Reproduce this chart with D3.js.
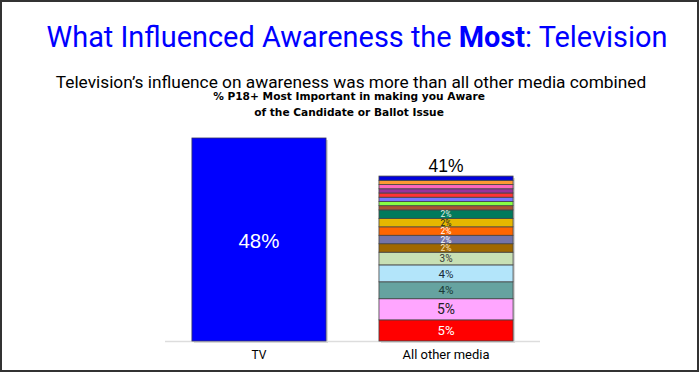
<!DOCTYPE html>
<html>
<head>
<meta charset="utf-8">
<script src="https://cdn.jsdelivr.net/npm/d3@7"></script>
<style>
  html, body { margin: 0; padding: 0; background: #fff; }
  svg { display: block; }
</style>
</head>
<body>
<svg id="chart" width="700" height="373"></svg>
<script>
// ---- data ----
const categories = ["TV", "All other media"];
const tvValue = 48;
const tvLabel = "48%";
const otherTotalLabel = "41%";
// stacked segments of "All other media", bottom to top
const otherValues = [5, 5, 4, 4, 3, 2, 2, 2, 2, 2, 1, 1, 1, 1, 1, 1, 1, 1];
const otherLabels = ["5%", "5%", "4%", "4%", "3%", "2%", "2%", "2%", "2%", "2%", "", "", "", "", "", "", "", ""];
const otherColors = ["#FF0000", "#FFA6FF", "#66A3A0", "#B3E5FA", "#C8E0B4", "#A06800", "#7474A8", "#FF6600", "#E6B800", "#007A5C",
                     "#AA5533", "#88FF44", "#7777FF", "#FF3333", "#993399", "#FF66BB", "#FF9933", "#0000DD"];
const otherLabelColors = ["#ffffff", "#222222", "#1a3a38", "#1a2a3a", "#333333", "#FFE8C0", "#ffffff", "#ffffff", "#222222", "#E0F0E8"];
const otherLabelWidths = [17, 18, 15, 15, 13, 11, 11, 11, 11, 11];

const titleText = ["What Influenced Awareness the ", "Most", ": Television"];
const subtitleText = "Television\u2019s influence on awareness was more than all other media combined";
const chartTitle = ["% P18+ Most Important in making you Aware", "of the Candidate or Ballot Issue"];

// ---- helpers ----
function fit(sel, target) {
  sel.each(function () {
    const el = d3.select(this);
    const fs = parseFloat(el.style("font-size"));
    const w = this.getComputedTextLength();
    if (w > 0) el.style("font-size", (fs * target / w) + "px");
  });
  return sel;
}

// ---- layout ----
const svg = d3.select("#chart");
const W = 700, H = 373;
const font = "'Liberation Sans', Arial, sans-serif";
const tfont = "Roboto, 'Liberation Sans', sans-serif";

svg.append("rect").attr("x", 1).attr("y", 1).attr("width", W - 3).attr("height", H - 3)
  .attr("fill", "#fff").attr("stroke", "#333").attr("stroke-width", 2);

const t = svg.append("text").attr("x", 357).attr("y", 47).attr("text-anchor", "middle")
  .attr("fill", "#0000FF").style("font-family", tfont).style("font-size", "32px");
t.append("tspan").text(titleText[0]);
t.append("tspan").style("font-weight", "bold").text(titleText[1]);
t.append("tspan").text(titleText[2]);
fit(t, 621);

fit(svg.append("text").attr("x", 351).attr("y", 88).attr("text-anchor", "middle")
  .attr("fill", "#000").style("font-family", tfont).style("font-size", "20px")
  .text(subtitleText), 591);

const ct = svg.selectAll("text.ct").data(chartTitle).join("text").attr("class", "ct")
  .attr("x", 349).attr("y", (d, i) => 100 + i * 16).attr("text-anchor", "middle")
  .attr("fill", "#000").style("font-family", "'DejaVu Sans', sans-serif")
  .style("font-size", "11px").style("font-weight", "bold").text(d => d);
fit(ct.filter((d, i) => i === 0), 272);
ct.filter((d, i) => i === 1).style("font-size", ct.filter((d, i) => i === 0).style("font-size"));

const x = d3.scaleBand().domain(categories).range([165, 540]).paddingInner(0.283).paddingOuter(0.144);
const y = d3.scaleLinear().domain([0, 48]).range([341, 138]);

// axis baseline
svg.append("line").attr("x1", 165).attr("x2", 540).attr("y1", 341.5).attr("y2", 341.5)
  .attr("stroke", "#dddddd").attr("stroke-width", 1.5);

// TV bar with shadow
svg.append("rect").attr("x", x("TV") + 2).attr("y", y(tvValue) + 2)
  .attr("width", x.bandwidth()).attr("height", y(0) - y(tvValue))
  .attr("fill", "#d8d8d8");
svg.append("rect").attr("x", x("TV")).attr("y", y(tvValue))
  .attr("width", x.bandwidth()).attr("height", y(0) - y(tvValue))
  .attr("fill", "#0000FF").attr("stroke", "#333366").attr("stroke-width", 0.8);
fit(svg.append("text").attr("x", x("TV") + x.bandwidth() / 2).attr("y", 248)
  .attr("text-anchor", "middle").attr("fill", "#fff")
  .style("font-family", font).style("font-size", "21px")
  .text(tvLabel), 41);

// stacked bar
let cum = 0;
const segs = otherValues.map((v, i) => {
  const s = { v, i, y0: cum, y1: cum + v };
  cum += v;
  return s;
});
const ox = x("All other media"), bw = x.bandwidth();
svg.append("rect").attr("x", ox + 2).attr("y", y(cum) + 2).attr("width", bw).attr("height", y(0) - y(cum))
  .attr("fill", "#d8d8d8");
svg.selectAll("rect.seg").data(segs).join("rect").attr("class", "seg")
  .attr("x", ox).attr("y", d => y(d.y1)).attr("width", bw).attr("height", d => y(d.y0) - y(d.y1))
  .attr("fill", d => otherColors[d.i]).attr("stroke", "#444").attr("stroke-width", 0.8);
svg.selectAll("text.seglab").data(segs.filter(d => otherLabels[d.i])).join("text").attr("class", "seglab")
  .attr("text-anchor", "middle").attr("fill", d => otherLabelColors[d.i])
  .style("font-family", tfont)
  .style("font-size", "10px")
  .text(d => otherLabels[d.i])
  .each(function (d) {
    const el = d3.select(this);
    fit(el, otherLabelWidths[d.i]);
    const fs = parseFloat(el.style("font-size"));
    el.attr("x", ox + bw / 2).attr("y", (y(d.y0) + y(d.y1)) / 2 + fs * 0.36);
  });
fit(svg.append("text").attr("x", ox + bw / 2).attr("y", 172).attr("text-anchor", "middle")
  .attr("fill", "#000").style("font-family", font).style("font-size", "18px")
  .text(otherTotalLabel), 35);

// category labels
const catW = [15, 87];
svg.selectAll("text.cat").data(categories).join("text").attr("class", "cat")
  .attr("x", d => x(d) + x.bandwidth() / 2).attr("y", 359).attr("text-anchor", "middle")
  .attr("fill", "#000").style("font-family", tfont).style("font-size", "13px")
  .text(d => d)
  .each(function (d, i) { fit(d3.select(this), catW[i]); });
</script>
</body>
</html>
